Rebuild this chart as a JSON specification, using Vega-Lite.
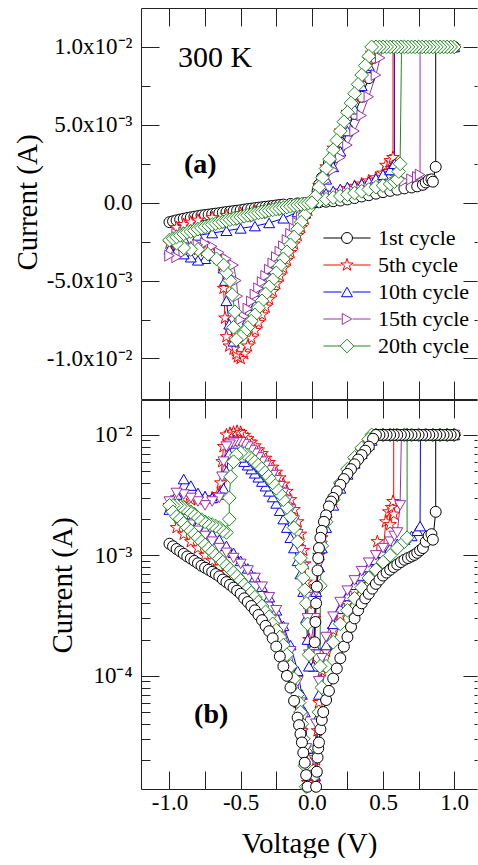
{
"$schema": "https://vega.github.io/schema/vega-lite/v6.json",
"background": "white",
"padding": {"left": 13, "top": 7, "right": 0, "bottom": 0},
"config": {
 "font": "Liberation Serif",
 "view": {"stroke": null},
 "concat": {"spacing": 0},
 "axis": {"grid": false, "domainColor": "#222", "tickColor": "#222", "domainWidth": 1, "tickWidth": 1, "labelFont": "Liberation Serif", "labelFontSize": 23, "labelColor": "#000", "titleFont": "Liberation Serif", "titleFontSize": 29, "titleFontWeight": "normal", "titleColor": "#000"},
 "legend": {"labelFont": "Liberation Serif", "labelFontSize": 22, "labelFontWeight": "normal", "labelColor": "#000", "padding": 0}
},
"datasets": {
"top": [
{"cycle":"1st","V":-1,"I":-0.00125},{"cycle":"1st","V":-0.975,"I":-0.00119},{"cycle":"1st","V":-0.95,"I":-0.00113},{"cycle":"1st","V":-0.925,"I":-0.00108},{"cycle":"1st","V":-0.9,"I":-0.00103},{"cycle":"1st","V":-0.875,"I":-0.00098},{"cycle":"1st","V":-0.85,"I":-0.00094},{"cycle":"1st","V":-0.825,"I":-0.0009},{"cycle":"1st","V":-0.8,"I":-0.00086},{"cycle":"1st","V":-0.775,"I":-0.00082},{"cycle":"1st","V":-0.75,"I":-0.00079},{"cycle":"1st","V":-0.725,"I":-0.00076},{"cycle":"1st","V":-0.7,"I":-0.00073},{"cycle":"1st","V":-0.675,"I":-0.0007},{"cycle":"1st","V":-0.65,"I":-0.00067},{"cycle":"1st","V":-0.625,"I":-0.00063},{"cycle":"1st","V":-0.6,"I":-0.0006},{"cycle":"1st","V":-0.575,"I":-0.00057},{"cycle":"1st","V":-0.55,"I":-0.00054},{"cycle":"1st","V":-0.525,"I":-0.00051},{"cycle":"1st","V":-0.5,"I":-0.00048},{"cycle":"1st","V":-0.475,"I":-0.00044},{"cycle":"1st","V":-0.45,"I":-0.00041},{"cycle":"1st","V":-0.425,"I":-0.00038},{"cycle":"1st","V":-0.4,"I":-0.00035},{"cycle":"1st","V":-0.375,"I":-0.00032},{"cycle":"1st","V":-0.35,"I":-0.00029},{"cycle":"1st","V":-0.325,"I":-0.00026},{"cycle":"1st","V":-0.3,"I":-0.000235},{"cycle":"1st","V":-0.275,"I":-0.000205},{"cycle":"1st","V":-0.25,"I":-0.000175},{"cycle":"1st","V":-0.225,"I":-0.000145},{"cycle":"1st","V":-0.2,"I":-0.00012},{"cycle":"1st","V":-0.15,"I":-0.00008},{"cycle":"1st","V":-0.1,"I":-0.000045},{"cycle":"1st","V":-0.05,"I":-0.000019},
{"cycle":"1st","V":0.05,"I":0.000028},{"cycle":"1st","V":0.1,"I":0.000063},{"cycle":"1st","V":0.15,"I":0.000095},{"cycle":"1st","V":0.2,"I":0.00014},{"cycle":"1st","V":0.25,"I":0.00021},{"cycle":"1st","V":0.3,"I":0.0003},{"cycle":"1st","V":0.35,"I":0.0004},{"cycle":"1st","V":0.4,"I":0.00048},{"cycle":"1st","V":0.45,"I":0.00058},{"cycle":"1st","V":0.5,"I":0.00068},{"cycle":"1st","V":0.55,"I":0.00076},{"cycle":"1st","V":0.6,"I":0.00084},{"cycle":"1st","V":0.65,"I":0.00092},{"cycle":"1st","V":0.7,"I":0.00098},{"cycle":"1st","V":0.74,"I":0.00105},{"cycle":"1st","V":0.78,"I":0.00115},{"cycle":"1st","V":0.8,"I":0.0013},{"cycle":"1st","V":0.82,"I":0.00145},{"cycle":"1st","V":0.84,"I":0.0015},{"cycle":"1st","V":0.85,"I":0.00135},{"cycle":"1st","V":0.87,"I":0.0023},
{"cycle":"1st","V":0.87,"I":0.01},{"cycle":"1st","V":1,"I":0.01},{"cycle":"1st","V":0.95,"I":0.01},{"cycle":"1st","V":0.9,"I":0.01},{"cycle":"1st","V":0.85,"I":0.01},{"cycle":"1st","V":0.8,"I":0.01},{"cycle":"1st","V":0.75,"I":0.01},{"cycle":"1st","V":0.7,"I":0.01},{"cycle":"1st","V":0.65,"I":0.01},{"cycle":"1st","V":0.6,"I":0.01},{"cycle":"1st","V":0.55,"I":0.01},{"cycle":"1st","V":0.5,"I":0.01},{"cycle":"1st","V":0.45,"I":0.01},
{"cycle":"1st","V":0.43,"I":0.0093},{"cycle":"1st","V":0.4,"I":0.008},{"cycle":"1st","V":0.35,"I":0.0068},{"cycle":"1st","V":0.3,"I":0.0057},{"cycle":"1st","V":0.25,"I":0.00475},{"cycle":"1st","V":0.2,"I":0.00385},{"cycle":"1st","V":0.15,"I":0.003},{"cycle":"1st","V":0.12,"I":0.00255},{"cycle":"1st","V":0.1,"I":0.00215},{"cycle":"1st","V":0.07,"I":0.0016},{"cycle":"1st","V":0.05,"I":0.00115},{"cycle":"1st","V":0.04,"I":0.00075},{"cycle":"1st","V":0.03,"I":0.0004},{"cycle":"1st","V":0.02,"I":0.00019},

{"cycle":"5th","V":0,"I":0},{"cycle":"5th","V":0.05,"I":0.00025},{"cycle":"5th","V":0.1,"I":0.00045},{"cycle":"5th","V":0.15,"I":0.0006},{"cycle":"5th","V":0.2,"I":0.00075},{"cycle":"5th","V":0.25,"I":0.0009},{"cycle":"5th","V":0.3,"I":0.00105},{"cycle":"5th","V":0.35,"I":0.0012},{"cycle":"5th","V":0.4,"I":0.0014},{"cycle":"5th","V":0.45,"I":0.0016},{"cycle":"5th","V":0.5,"I":0.0019},{"cycle":"5th","V":0.52,"I":0.0024},{"cycle":"5th","V":0.54,"I":0.002},{"cycle":"5th","V":0.55,"I":0.0027},{"cycle":"5th","V":0.56,"I":0.0022},{"cycle":"5th","V":0.57,"I":0.0029},
{"cycle":"5th","V":0.57,"I":0.01},{"cycle":"5th","V":1,"I":0.01},{"cycle":"5th","V":0.95,"I":0.01},{"cycle":"5th","V":0.9,"I":0.01},{"cycle":"5th","V":0.85,"I":0.01},{"cycle":"5th","V":0.8,"I":0.01},{"cycle":"5th","V":0.75,"I":0.01},{"cycle":"5th","V":0.7,"I":0.01},{"cycle":"5th","V":0.65,"I":0.01},{"cycle":"5th","V":0.6,"I":0.01},{"cycle":"5th","V":0.55,"I":0.01},{"cycle":"5th","V":0.5,"I":0.01},{"cycle":"5th","V":0.45,"I":0.01},
{"cycle":"5th","V":0.42,"I":0.0096},{"cycle":"5th","V":0.4,"I":0.0092},{"cycle":"5th","V":0.35,"I":0.0081},{"cycle":"5th","V":0.3,"I":0.0069},{"cycle":"5th","V":0.25,"I":0.0058},{"cycle":"5th","V":0.2,"I":0.0046},{"cycle":"5th","V":0.15,"I":0.0035},{"cycle":"5th","V":0.1,"I":0.0023},{"cycle":"5th","V":0.05,"I":0.0011},{"cycle":"5th","V":0,"I":0},
{"cycle":"5th","V":-0.025,"I":-0.0005},{"cycle":"5th","V":-0.05,"I":-0.00105},{"cycle":"5th","V":-0.075,"I":-0.0016},{"cycle":"5th","V":-0.1,"I":-0.0021},{"cycle":"5th","V":-0.125,"I":-0.00265},{"cycle":"5th","V":-0.15,"I":-0.0032},{"cycle":"5th","V":-0.175,"I":-0.0037},{"cycle":"5th","V":-0.2,"I":-0.0042},{"cycle":"5th","V":-0.225,"I":-0.0047},{"cycle":"5th","V":-0.25,"I":-0.0052},{"cycle":"5th","V":-0.275,"I":-0.0057},{"cycle":"5th","V":-0.3,"I":-0.0062},{"cycle":"5th","V":-0.325,"I":-0.0067},{"cycle":"5th","V":-0.35,"I":-0.0072},{"cycle":"5th","V":-0.375,"I":-0.0077},{"cycle":"5th","V":-0.4,"I":-0.0082},{"cycle":"5th","V":-0.425,"I":-0.0087},{"cycle":"5th","V":-0.45,"I":-0.0092},{"cycle":"5th","V":-0.475,"I":-0.0097},{"cycle":"5th","V":-0.5,"I":-0.01},{"cycle":"5th","V":-0.52,"I":-0.0099},{"cycle":"5th","V":-0.53,"I":-0.0097},{"cycle":"5th","V":-0.55,"I":-0.0094},{"cycle":"5th","V":-0.58,"I":-0.0092},{"cycle":"5th","V":-0.6,"I":-0.0086},{"cycle":"5th","V":-0.61,"I":-0.0074},{"cycle":"5th","V":-0.62,"I":-0.0055},{"cycle":"5th","V":-0.63,"I":-0.004},
{"cycle":"5th","V":-0.65,"I":-0.0035},{"cycle":"5th","V":-0.7,"I":-0.0032},{"cycle":"5th","V":-0.75,"I":-0.0031},{"cycle":"5th","V":-0.8,"I":-0.003},{"cycle":"5th","V":-0.85,"I":-0.0029},{"cycle":"5th","V":-0.9,"I":-0.0028},{"cycle":"5th","V":-0.95,"I":-0.0027},{"cycle":"5th","V":-1,"I":-0.0026},
{"cycle":"5th","V":-0.95,"I":-0.0016},{"cycle":"5th","V":-0.9,"I":-0.0014},{"cycle":"5th","V":-0.85,"I":-0.00125},{"cycle":"5th","V":-0.8,"I":-0.00112},{"cycle":"5th","V":-0.7,"I":-0.00096},{"cycle":"5th","V":-0.6,"I":-0.00082},{"cycle":"5th","V":-0.5,"I":-0.0007},{"cycle":"5th","V":-0.4,"I":-0.00056},{"cycle":"5th","V":-0.3,"I":-0.00043},{"cycle":"5th","V":-0.2,"I":-0.00029},{"cycle":"5th","V":-0.1,"I":-0.00014},{"cycle":"5th","V":0,"I":0},

{"cycle":"10th","V":0,"I":0},{"cycle":"10th","V":0.05,"I":0.00035},{"cycle":"10th","V":0.1,"I":0.0006},{"cycle":"10th","V":0.15,"I":0.00075},{"cycle":"10th","V":0.2,"I":0.00088},{"cycle":"10th","V":0.25,"I":0.001},{"cycle":"10th","V":0.3,"I":0.0011},{"cycle":"10th","V":0.35,"I":0.0012},{"cycle":"10th","V":0.4,"I":0.00135},{"cycle":"10th","V":0.45,"I":0.00155},{"cycle":"10th","V":0.5,"I":0.0018},{"cycle":"10th","V":0.55,"I":0.0021},{"cycle":"10th","V":0.58,"I":0.0025},
{"cycle":"10th","V":0.58,"I":0.01},{"cycle":"10th","V":1,"I":0.01},{"cycle":"10th","V":0.95,"I":0.01},{"cycle":"10th","V":0.9,"I":0.01},{"cycle":"10th","V":0.85,"I":0.01},{"cycle":"10th","V":0.8,"I":0.01},{"cycle":"10th","V":0.75,"I":0.01},{"cycle":"10th","V":0.7,"I":0.01},{"cycle":"10th","V":0.65,"I":0.01},{"cycle":"10th","V":0.6,"I":0.01},{"cycle":"10th","V":0.55,"I":0.01},{"cycle":"10th","V":0.5,"I":0.01},{"cycle":"10th","V":0.45,"I":0.01},
{"cycle":"10th","V":0.4,"I":0.0088},{"cycle":"10th","V":0.35,"I":0.0075},{"cycle":"10th","V":0.3,"I":0.006},{"cycle":"10th","V":0.25,"I":0.0046},{"cycle":"10th","V":0.2,"I":0.0033},{"cycle":"10th","V":0.15,"I":0.0023},{"cycle":"10th","V":0.1,"I":0.0015},{"cycle":"10th","V":0.05,"I":0.0007},{"cycle":"10th","V":0,"I":0},
{"cycle":"10th","V":-0.05,"I":-0.0007},{"cycle":"10th","V":-0.1,"I":-0.0015},{"cycle":"10th","V":-0.15,"I":-0.0023},{"cycle":"10th","V":-0.2,"I":-0.0031},{"cycle":"10th","V":-0.25,"I":-0.0039},{"cycle":"10th","V":-0.3,"I":-0.0048},{"cycle":"10th","V":-0.35,"I":-0.0057},{"cycle":"10th","V":-0.4,"I":-0.0066},{"cycle":"10th","V":-0.45,"I":-0.0075},{"cycle":"10th","V":-0.5,"I":-0.0084},{"cycle":"10th","V":-0.55,"I":-0.0089},{"cycle":"10th","V":-0.58,"I":-0.0078},{"cycle":"10th","V":-0.6,"I":-0.0063},{"cycle":"10th","V":-0.61,"I":-0.005},{"cycle":"10th","V":-0.62,"I":-0.0042},
{"cycle":"10th","V":-0.65,"I":-0.0036},{"cycle":"10th","V":-0.7,"I":-0.0034},{"cycle":"10th","V":-0.75,"I":-0.0036},{"cycle":"10th","V":-0.8,"I":-0.0037},{"cycle":"10th","V":-0.85,"I":-0.0035},{"cycle":"10th","V":-0.9,"I":-0.0033},{"cycle":"10th","V":-0.95,"I":-0.0031},{"cycle":"10th","V":-1,"I":-0.003},
{"cycle":"10th","V":-0.95,"I":-0.0025},{"cycle":"10th","V":-0.9,"I":-0.0023},{"cycle":"10th","V":-0.8,"I":-0.0021},{"cycle":"10th","V":-0.7,"I":-0.00195},{"cycle":"10th","V":-0.6,"I":-0.0018},{"cycle":"10th","V":-0.5,"I":-0.00165},{"cycle":"10th","V":-0.4,"I":-0.0015},{"cycle":"10th","V":-0.3,"I":-0.0013},{"cycle":"10th","V":-0.2,"I":-0.001},{"cycle":"10th","V":-0.1,"I":-0.0006},{"cycle":"10th","V":0,"I":0},

{"cycle":"15th","V":0,"I":0},{"cycle":"15th","V":0.05,"I":0.00015},{"cycle":"15th","V":0.1,"I":0.0003},{"cycle":"15th","V":0.15,"I":0.00042},{"cycle":"15th","V":0.2,"I":0.00052},{"cycle":"15th","V":0.25,"I":0.00062},{"cycle":"15th","V":0.3,"I":0.00072},{"cycle":"15th","V":0.35,"I":0.00082},{"cycle":"15th","V":0.4,"I":0.00092},{"cycle":"15th","V":0.45,"I":0.001},{"cycle":"15th","V":0.5,"I":0.0011},{"cycle":"15th","V":0.55,"I":0.0012},{"cycle":"15th","V":0.6,"I":0.0013},{"cycle":"15th","V":0.65,"I":0.0014},{"cycle":"15th","V":0.7,"I":0.0015},{"cycle":"15th","V":0.74,"I":0.00165},{"cycle":"15th","V":0.76,"I":0.0018},
{"cycle":"15th","V":0.76,"I":0.01},{"cycle":"15th","V":1,"I":0.01},{"cycle":"15th","V":0.95,"I":0.01},{"cycle":"15th","V":0.9,"I":0.01},{"cycle":"15th","V":0.85,"I":0.01},{"cycle":"15th","V":0.8,"I":0.01},{"cycle":"15th","V":0.75,"I":0.01},{"cycle":"15th","V":0.7,"I":0.01},{"cycle":"15th","V":0.65,"I":0.01},{"cycle":"15th","V":0.6,"I":0.01},{"cycle":"15th","V":0.55,"I":0.01},{"cycle":"15th","V":0.5,"I":0.01},
{"cycle":"15th","V":0.48,"I":0.0093},{"cycle":"15th","V":0.45,"I":0.0082},{"cycle":"15th","V":0.4,"I":0.0068},{"cycle":"15th","V":0.35,"I":0.0056},{"cycle":"15th","V":0.3,"I":0.0046},{"cycle":"15th","V":0.25,"I":0.0037},{"cycle":"15th","V":0.2,"I":0.0029},{"cycle":"15th","V":0.15,"I":0.0021},{"cycle":"15th","V":0.1,"I":0.0014},{"cycle":"15th","V":0.05,"I":0.0007},{"cycle":"15th","V":0,"I":0},
{"cycle":"15th","V":-0.025,"I":-0.0003},{"cycle":"15th","V":-0.05,"I":-0.0006},{"cycle":"15th","V":-0.075,"I":-0.00095},{"cycle":"15th","V":-0.1,"I":-0.0013},{"cycle":"15th","V":-0.125,"I":-0.00165},{"cycle":"15th","V":-0.15,"I":-0.002},{"cycle":"15th","V":-0.175,"I":-0.0024},{"cycle":"15th","V":-0.2,"I":-0.0028},{"cycle":"15th","V":-0.225,"I":-0.00315},{"cycle":"15th","V":-0.25,"I":-0.0035},{"cycle":"15th","V":-0.275,"I":-0.0039},{"cycle":"15th","V":-0.3,"I":-0.0043},{"cycle":"15th","V":-0.325,"I":-0.0047},{"cycle":"15th","V":-0.35,"I":-0.0051},{"cycle":"15th","V":-0.375,"I":-0.0055},{"cycle":"15th","V":-0.4,"I":-0.0059},{"cycle":"15th","V":-0.425,"I":-0.00635},{"cycle":"15th","V":-0.45,"I":-0.0068},{"cycle":"15th","V":-0.475,"I":-0.0073},{"cycle":"15th","V":-0.5,"I":-0.0075},{"cycle":"15th","V":-0.52,"I":-0.006},{"cycle":"15th","V":-0.53,"I":-0.005},{"cycle":"15th","V":-0.55,"I":-0.004},
{"cycle":"15th","V":-0.6,"I":-0.0036},{"cycle":"15th","V":-0.65,"I":-0.0032},{"cycle":"15th","V":-0.7,"I":-0.0028},{"cycle":"15th","V":-0.75,"I":-0.0026},{"cycle":"15th","V":-0.8,"I":-0.0027},{"cycle":"15th","V":-0.85,"I":-0.0029},{"cycle":"15th","V":-0.9,"I":-0.0032},{"cycle":"15th","V":-0.95,"I":-0.0035},{"cycle":"15th","V":-1,"I":-0.0034},
{"cycle":"15th","V":-0.95,"I":-0.002},{"cycle":"15th","V":-0.9,"I":-0.0019},{"cycle":"15th","V":-0.8,"I":-0.0017},{"cycle":"15th","V":-0.7,"I":-0.0015},{"cycle":"15th","V":-0.6,"I":-0.0013},{"cycle":"15th","V":-0.5,"I":-0.0011},{"cycle":"15th","V":-0.4,"I":-0.0009},{"cycle":"15th","V":-0.3,"I":-0.00068},{"cycle":"15th","V":-0.2,"I":-0.00046},{"cycle":"15th","V":-0.1,"I":-0.00023},{"cycle":"15th","V":0,"I":0},

{"cycle":"20th","V":0,"I":0},{"cycle":"20th","V":0.05,"I":0.0001},{"cycle":"20th","V":0.1,"I":0.00022},{"cycle":"20th","V":0.15,"I":0.00033},{"cycle":"20th","V":0.2,"I":0.00043},{"cycle":"20th","V":0.25,"I":0.00052},{"cycle":"20th","V":0.3,"I":0.00062},{"cycle":"20th","V":0.35,"I":0.00073},{"cycle":"20th","V":0.4,"I":0.00085},{"cycle":"20th","V":0.45,"I":0.001},{"cycle":"20th","V":0.5,"I":0.0011},{"cycle":"20th","V":0.55,"I":0.0012},{"cycle":"20th","V":0.58,"I":0.00135},{"cycle":"20th","V":0.6,"I":0.0015},{"cycle":"20th","V":0.61,"I":0.002},{"cycle":"20th","V":0.62,"I":0.0025},
{"cycle":"20th","V":0.63,"I":0.01},{"cycle":"20th","V":1,"I":0.01},{"cycle":"20th","V":0.975,"I":0.01},{"cycle":"20th","V":0.95,"I":0.01},{"cycle":"20th","V":0.925,"I":0.01},{"cycle":"20th","V":0.9,"I":0.01},{"cycle":"20th","V":0.875,"I":0.01},{"cycle":"20th","V":0.85,"I":0.01},{"cycle":"20th","V":0.825,"I":0.01},{"cycle":"20th","V":0.8,"I":0.01},{"cycle":"20th","V":0.775,"I":0.01},{"cycle":"20th","V":0.75,"I":0.01},{"cycle":"20th","V":0.725,"I":0.01},{"cycle":"20th","V":0.7,"I":0.01},{"cycle":"20th","V":0.675,"I":0.01},{"cycle":"20th","V":0.65,"I":0.01},{"cycle":"20th","V":0.625,"I":0.01},{"cycle":"20th","V":0.6,"I":0.01},{"cycle":"20th","V":0.575,"I":0.01},{"cycle":"20th","V":0.55,"I":0.01},{"cycle":"20th","V":0.525,"I":0.01},{"cycle":"20th","V":0.5,"I":0.01},{"cycle":"20th","V":0.475,"I":0.01},{"cycle":"20th","V":0.45,"I":0.01},
{"cycle":"20th","V":0.42,"I":0.01},{"cycle":"20th","V":0.4,"I":0.0094},{"cycle":"20th","V":0.375,"I":0.0088},{"cycle":"20th","V":0.35,"I":0.0082},{"cycle":"20th","V":0.325,"I":0.0076},{"cycle":"20th","V":0.3,"I":0.007},{"cycle":"20th","V":0.275,"I":0.0064},{"cycle":"20th","V":0.25,"I":0.0058},{"cycle":"20th","V":0.225,"I":0.0052},{"cycle":"20th","V":0.2,"I":0.0046},{"cycle":"20th","V":0.175,"I":0.004},{"cycle":"20th","V":0.15,"I":0.0034},{"cycle":"20th","V":0.125,"I":0.0028},{"cycle":"20th","V":0.1,"I":0.0022},{"cycle":"20th","V":0.075,"I":0.0016},{"cycle":"20th","V":0.05,"I":0.001},{"cycle":"20th","V":0.025,"I":0.0004},{"cycle":"20th","V":0,"I":0},
{"cycle":"20th","V":-0.025,"I":-0.0004},{"cycle":"20th","V":-0.05,"I":-0.0008},{"cycle":"20th","V":-0.075,"I":-0.00125},{"cycle":"20th","V":-0.1,"I":-0.0017},{"cycle":"20th","V":-0.125,"I":-0.0022},{"cycle":"20th","V":-0.15,"I":-0.0027},{"cycle":"20th","V":-0.175,"I":-0.00315},{"cycle":"20th","V":-0.2,"I":-0.0036},{"cycle":"20th","V":-0.225,"I":-0.00405},{"cycle":"20th","V":-0.25,"I":-0.0045},{"cycle":"20th","V":-0.275,"I":-0.00495},{"cycle":"20th","V":-0.3,"I":-0.0054},{"cycle":"20th","V":-0.325,"I":-0.00585},{"cycle":"20th","V":-0.35,"I":-0.0063},{"cycle":"20th","V":-0.375,"I":-0.00675},{"cycle":"20th","V":-0.4,"I":-0.0072},{"cycle":"20th","V":-0.425,"I":-0.0076},{"cycle":"20th","V":-0.45,"I":-0.008},{"cycle":"20th","V":-0.475,"I":-0.0083},{"cycle":"20th","V":-0.5,"I":-0.0086},{"cycle":"20th","V":-0.53,"I":-0.0088},{"cycle":"20th","V":-0.55,"I":-0.008},{"cycle":"20th","V":-0.54,"I":-0.007},{"cycle":"20th","V":-0.56,"I":-0.0059},{"cycle":"20th","V":-0.575,"I":-0.005},{"cycle":"20th","V":-0.6,"I":-0.0045},
{"cycle":"20th","V":-0.62,"I":-0.004},{"cycle":"20th","V":-0.67,"I":-0.0036},{"cycle":"20th","V":-0.73,"I":-0.0033},{"cycle":"20th","V":-0.8,"I":-0.003},{"cycle":"20th","V":-0.85,"I":-0.003},{"cycle":"20th","V":-0.9,"I":-0.0029},{"cycle":"20th","V":-0.95,"I":-0.0026},{"cycle":"20th","V":-1,"I":-0.0024},
{"cycle":"20th","V":-0.975,"I":-0.0023},{"cycle":"20th","V":-0.95,"I":-0.0022},{"cycle":"20th","V":-0.925,"I":-0.0021},{"cycle":"20th","V":-0.9,"I":-0.002},{"cycle":"20th","V":-0.875,"I":-0.0019},{"cycle":"20th","V":-0.85,"I":-0.00185},{"cycle":"20th","V":-0.825,"I":-0.00178},{"cycle":"20th","V":-0.8,"I":-0.0017},{"cycle":"20th","V":-0.775,"I":-0.00162},{"cycle":"20th","V":-0.75,"I":-0.00155},{"cycle":"20th","V":-0.725,"I":-0.00148},{"cycle":"20th","V":-0.7,"I":-0.0014},{"cycle":"20th","V":-0.675,"I":-0.00134},{"cycle":"20th","V":-0.65,"I":-0.00128},{"cycle":"20th","V":-0.625,"I":-0.00122},{"cycle":"20th","V":-0.6,"I":-0.00115},{"cycle":"20th","V":-0.575,"I":-0.00109},{"cycle":"20th","V":-0.55,"I":-0.00103},{"cycle":"20th","V":-0.525,"I":-0.00098},{"cycle":"20th","V":-0.5,"I":-0.00092},{"cycle":"20th","V":-0.475,"I":-0.00087},{"cycle":"20th","V":-0.45,"I":-0.00081},{"cycle":"20th","V":-0.425,"I":-0.00076},{"cycle":"20th","V":-0.4,"I":-0.0007},{"cycle":"20th","V":-0.375,"I":-0.00065},{"cycle":"20th","V":-0.35,"I":-0.0006},{"cycle":"20th","V":-0.325,"I":-0.00055},{"cycle":"20th","V":-0.3,"I":-0.0005},{"cycle":"20th","V":-0.275,"I":-0.00046},{"cycle":"20th","V":-0.25,"I":-0.00041},{"cycle":"20th","V":-0.225,"I":-0.00037},{"cycle":"20th","V":-0.2,"I":-0.00032},{"cycle":"20th","V":-0.175,"I":-0.00028},{"cycle":"20th","V":-0.15,"I":-0.00023},{"cycle":"20th","V":-0.125,"I":-0.00019},{"cycle":"20th","V":-0.1,"I":-0.00015},{"cycle":"20th","V":-0.075,"I":-0.00011},{"cycle":"20th","V":-0.05,"I":-0.00007},{"cycle":"20th","V":-0.025,"I":-0.00003},{"cycle":"20th","V":0,"I":0}
],
"bot": [
{"cycle":"5th","V":0.02,"I":0.000013},{"cycle":"5th","V":0.03,"I":0.00002},{"cycle":"5th","V":0.04,"I":0.000035},{"cycle":"5th","V":0.05,"I":0.00006},{"cycle":"5th","V":0.07,"I":0.00011},{"cycle":"5th","V":0.1,"I":0.00016},{"cycle":"5th","V":0.15,"I":0.00024},{"cycle":"5th","V":0.2,"I":0.00032},{"cycle":"5th","V":0.25,"I":0.0004},{"cycle":"5th","V":0.3,"I":0.0005},{"cycle":"5th","V":0.35,"I":0.00062},{"cycle":"5th","V":0.4,"I":0.00075},{"cycle":"5th","V":0.45,"I":0.0009},{"cycle":"5th","V":0.46,"I":0.0013},{"cycle":"5th","V":0.5,"I":0.00105},{"cycle":"5th","V":0.52,"I":0.0019},{"cycle":"5th","V":0.54,"I":0.0023},{"cycle":"5th","V":0.55,"I":0.0018},{"cycle":"5th","V":0.56,"I":0.0025},{"cycle":"5th","V":0.57,"I":0.0028},{"cycle":"5th","V":0.575,"I":0.0022},
{"cycle":"5th","V":0.575,"I":0.01},{"cycle":"5th","V":1,"I":0.01},{"cycle":"5th","V":0.95,"I":0.01},{"cycle":"5th","V":0.9,"I":0.01},{"cycle":"5th","V":0.85,"I":0.01},{"cycle":"5th","V":0.8,"I":0.01},{"cycle":"5th","V":0.75,"I":0.01},{"cycle":"5th","V":0.7,"I":0.01},{"cycle":"5th","V":0.65,"I":0.01},{"cycle":"5th","V":0.6,"I":0.01},{"cycle":"5th","V":0.55,"I":0.01},{"cycle":"5th","V":0.5,"I":0.01},{"cycle":"5th","V":0.45,"I":0.01},
{"cycle":"5th","V":0.42,"I":0.0094},{"cycle":"5th","V":0.4,"I":0.0086},{"cycle":"5th","V":0.35,"I":0.0073},{"cycle":"5th","V":0.3,"I":0.0061},{"cycle":"5th","V":0.25,"I":0.005},{"cycle":"5th","V":0.2,"I":0.0039},{"cycle":"5th","V":0.15,"I":0.0029},{"cycle":"5th","V":0.1,"I":0.002},{"cycle":"5th","V":0.07,"I":0.0014},{"cycle":"5th","V":0.05,"I":0.001},{"cycle":"5th","V":0.03,"I":0.00055},{"cycle":"5th","V":0.02,"I":0.0003},{"cycle":"5th","V":0.01,"I":0.00012},
{"cycle":"5th","V":-0.02,"I":0.0002},{"cycle":"5th","V":-0.03,"I":0.0004},{"cycle":"5th","V":-0.04,"I":0.0006},{"cycle":"5th","V":-0.05,"I":0.00085},{"cycle":"5th","V":-0.06,"I":0.0011},{"cycle":"5th","V":-0.08,"I":0.0015},{"cycle":"5th","V":-0.1,"I":0.0019},{"cycle":"5th","V":-0.125,"I":0.0024},{"cycle":"5th","V":-0.15,"I":0.0029},{"cycle":"5th","V":-0.175,"I":0.0034},{"cycle":"5th","V":-0.2,"I":0.0039},{"cycle":"5th","V":-0.225,"I":0.0044},{"cycle":"5th","V":-0.25,"I":0.0049},{"cycle":"5th","V":-0.275,"I":0.0054},{"cycle":"5th","V":-0.3,"I":0.0059},{"cycle":"5th","V":-0.325,"I":0.0064},{"cycle":"5th","V":-0.35,"I":0.007},{"cycle":"5th","V":-0.375,"I":0.0075},{"cycle":"5th","V":-0.4,"I":0.0081},{"cycle":"5th","V":-0.425,"I":0.0087},{"cycle":"5th","V":-0.45,"I":0.0093},{"cycle":"5th","V":-0.475,"I":0.0099},{"cycle":"5th","V":-0.5,"I":0.0105},{"cycle":"5th","V":-0.525,"I":0.0107},{"cycle":"5th","V":-0.55,"I":0.0105},{"cycle":"5th","V":-0.575,"I":0.0103},{"cycle":"5th","V":-0.6,"I":0.01},{"cycle":"5th","V":-0.62,"I":0.008},{"cycle":"5th","V":-0.63,"I":0.006},{"cycle":"5th","V":-0.64,"I":0.004},
{"cycle":"5th","V":-0.66,"I":0.0032},{"cycle":"5th","V":-0.7,"I":0.003},{"cycle":"5th","V":-0.75,"I":0.003},{"cycle":"5th","V":-0.8,"I":0.0029},{"cycle":"5th","V":-0.85,"I":0.0029},{"cycle":"5th","V":-0.9,"I":0.003},{"cycle":"5th","V":-0.95,"I":0.003},{"cycle":"5th","V":-1,"I":0.0026},
{"cycle":"5th","V":-0.95,"I":0.0017},{"cycle":"5th","V":-0.9,"I":0.0015},{"cycle":"5th","V":-0.85,"I":0.0013},{"cycle":"5th","V":-0.8,"I":0.00115},{"cycle":"5th","V":-0.75,"I":0.001},{"cycle":"5th","V":-0.7,"I":0.0009},{"cycle":"5th","V":-0.65,"I":0.0008},{"cycle":"5th","V":-0.6,"I":0.00072},{"cycle":"5th","V":-0.55,"I":0.00064},{"cycle":"5th","V":-0.5,"I":0.00056},{"cycle":"5th","V":-0.45,"I":0.00049},{"cycle":"5th","V":-0.4,"I":0.00042},{"cycle":"5th","V":-0.35,"I":0.00035},{"cycle":"5th","V":-0.3,"I":0.00028},{"cycle":"5th","V":-0.25,"I":0.00022},{"cycle":"5th","V":-0.2,"I":0.00016},{"cycle":"5th","V":-0.15,"I":0.00011},{"cycle":"5th","V":-0.1,"I":0.00006},{"cycle":"5th","V":-0.07,"I":0.000035},{"cycle":"5th","V":-0.05,"I":0.000022},{"cycle":"5th","V":-0.03,"I":0.000013},

{"cycle":"10th","V":0.02,"I":0.000015},{"cycle":"10th","V":0.03,"I":0.000025},{"cycle":"10th","V":0.04,"I":0.000045},{"cycle":"10th","V":0.05,"I":0.00007},{"cycle":"10th","V":0.07,"I":0.00012},{"cycle":"10th","V":0.1,"I":0.00018},{"cycle":"10th","V":0.15,"I":0.00027},{"cycle":"10th","V":0.2,"I":0.00036},{"cycle":"10th","V":0.25,"I":0.00046},{"cycle":"10th","V":0.3,"I":0.00057},{"cycle":"10th","V":0.35,"I":0.00068},{"cycle":"10th","V":0.4,"I":0.0008},{"cycle":"10th","V":0.45,"I":0.00092},{"cycle":"10th","V":0.5,"I":0.00105},{"cycle":"10th","V":0.55,"I":0.00115},{"cycle":"10th","V":0.6,"I":0.00125},{"cycle":"10th","V":0.65,"I":0.00135},{"cycle":"10th","V":0.7,"I":0.00145},{"cycle":"10th","V":0.74,"I":0.0016},{"cycle":"10th","V":0.76,"I":0.00175},
{"cycle":"10th","V":0.763,"I":0.01},{"cycle":"10th","V":1,"I":0.01},{"cycle":"10th","V":0.95,"I":0.01},{"cycle":"10th","V":0.9,"I":0.01},{"cycle":"10th","V":0.85,"I":0.01},{"cycle":"10th","V":0.8,"I":0.01},{"cycle":"10th","V":0.75,"I":0.01},{"cycle":"10th","V":0.7,"I":0.01},{"cycle":"10th","V":0.65,"I":0.01},{"cycle":"10th","V":0.6,"I":0.01},{"cycle":"10th","V":0.55,"I":0.01},{"cycle":"10th","V":0.5,"I":0.01},{"cycle":"10th","V":0.45,"I":0.01},
{"cycle":"10th","V":0.42,"I":0.009},{"cycle":"10th","V":0.4,"I":0.0083},{"cycle":"10th","V":0.35,"I":0.007},{"cycle":"10th","V":0.3,"I":0.0058},{"cycle":"10th","V":0.25,"I":0.0047},{"cycle":"10th","V":0.2,"I":0.0036},{"cycle":"10th","V":0.15,"I":0.0026},{"cycle":"10th","V":0.1,"I":0.0017},{"cycle":"10th","V":0.07,"I":0.00115},{"cycle":"10th","V":0.05,"I":0.0008},{"cycle":"10th","V":0.03,"I":0.0005},{"cycle":"10th","V":0.02,"I":0.0003},{"cycle":"10th","V":0.015,"I":0.00018},{"cycle":"10th","V":0.01,"I":0.00012},
{"cycle":"10th","V":-0.02,"I":0.00012},{"cycle":"10th","V":-0.03,"I":0.0002},{"cycle":"10th","V":-0.04,"I":0.0003},{"cycle":"10th","V":-0.06,"I":0.0005},{"cycle":"10th","V":-0.08,"I":0.0007},{"cycle":"10th","V":-0.1,"I":0.0009},{"cycle":"10th","V":-0.125,"I":0.00115},{"cycle":"10th","V":-0.15,"I":0.0014},{"cycle":"10th","V":-0.175,"I":0.0017},{"cycle":"10th","V":-0.2,"I":0.002},{"cycle":"10th","V":-0.225,"I":0.00235},{"cycle":"10th","V":-0.25,"I":0.0027},{"cycle":"10th","V":-0.275,"I":0.00305},{"cycle":"10th","V":-0.3,"I":0.0034},{"cycle":"10th","V":-0.325,"I":0.00375},{"cycle":"10th","V":-0.35,"I":0.0041},{"cycle":"10th","V":-0.375,"I":0.00445},{"cycle":"10th","V":-0.4,"I":0.0048},{"cycle":"10th","V":-0.425,"I":0.0052},{"cycle":"10th","V":-0.45,"I":0.0056},{"cycle":"10th","V":-0.475,"I":0.006},{"cycle":"10th","V":-0.5,"I":0.0065},{"cycle":"10th","V":-0.53,"I":0.0085},{"cycle":"10th","V":-0.55,"I":0.009},{"cycle":"10th","V":-0.58,"I":0.007},{"cycle":"10th","V":-0.6,"I":0.005},{"cycle":"10th","V":-0.62,"I":0.0036},
{"cycle":"10th","V":-0.65,"I":0.0032},{"cycle":"10th","V":-0.7,"I":0.003},{"cycle":"10th","V":-0.75,"I":0.0031},{"cycle":"10th","V":-0.8,"I":0.0033},{"cycle":"10th","V":-0.85,"I":0.0038},{"cycle":"10th","V":-0.9,"I":0.0043},{"cycle":"10th","V":-0.95,"I":0.0032},{"cycle":"10th","V":-1,"I":0.0024},
{"cycle":"10th","V":-0.95,"I":0.0023},{"cycle":"10th","V":-0.9,"I":0.0021},{"cycle":"10th","V":-0.85,"I":0.00195},{"cycle":"10th","V":-0.8,"I":0.0018},{"cycle":"10th","V":-0.75,"I":0.00165},{"cycle":"10th","V":-0.7,"I":0.0015},{"cycle":"10th","V":-0.65,"I":0.00135},{"cycle":"10th","V":-0.6,"I":0.0012},{"cycle":"10th","V":-0.55,"I":0.00105},{"cycle":"10th","V":-0.5,"I":0.0009},{"cycle":"10th","V":-0.45,"I":0.00078},{"cycle":"10th","V":-0.4,"I":0.00066},{"cycle":"10th","V":-0.35,"I":0.00055},{"cycle":"10th","V":-0.3,"I":0.00045},{"cycle":"10th","V":-0.25,"I":0.00035},{"cycle":"10th","V":-0.2,"I":0.00026},{"cycle":"10th","V":-0.15,"I":0.00018},{"cycle":"10th","V":-0.1,"I":0.00011},{"cycle":"10th","V":-0.07,"I":0.00007},{"cycle":"10th","V":-0.05,"I":0.00005},{"cycle":"10th","V":-0.03,"I":0.000025},

{"cycle":"15th","V":0.02,"I":0.00002},{"cycle":"15th","V":0.03,"I":0.00004},{"cycle":"15th","V":0.05,"I":0.00009},{"cycle":"15th","V":0.07,"I":0.00014},{"cycle":"15th","V":0.1,"I":0.00021},{"cycle":"15th","V":0.15,"I":0.00031},{"cycle":"15th","V":0.2,"I":0.00041},{"cycle":"15th","V":0.25,"I":0.00051},{"cycle":"15th","V":0.3,"I":0.00062},{"cycle":"15th","V":0.35,"I":0.00074},{"cycle":"15th","V":0.4,"I":0.00087},{"cycle":"15th","V":0.45,"I":0.001},{"cycle":"15th","V":0.5,"I":0.00115},{"cycle":"15th","V":0.55,"I":0.0013},{"cycle":"15th","V":0.58,"I":0.00145},{"cycle":"15th","V":0.6,"I":0.00155},{"cycle":"15th","V":0.62,"I":0.0026},
{"cycle":"15th","V":0.629,"I":0.01},{"cycle":"15th","V":1,"I":0.01},{"cycle":"15th","V":0.95,"I":0.01},{"cycle":"15th","V":0.9,"I":0.01},{"cycle":"15th","V":0.85,"I":0.01},{"cycle":"15th","V":0.8,"I":0.01},{"cycle":"15th","V":0.75,"I":0.01},{"cycle":"15th","V":0.7,"I":0.01},{"cycle":"15th","V":0.65,"I":0.01},{"cycle":"15th","V":0.6,"I":0.01},{"cycle":"15th","V":0.55,"I":0.01},{"cycle":"15th","V":0.5,"I":0.01},{"cycle":"15th","V":0.45,"I":0.01},
{"cycle":"15th","V":0.42,"I":0.009},{"cycle":"15th","V":0.4,"I":0.0084},{"cycle":"15th","V":0.35,"I":0.0071},{"cycle":"15th","V":0.3,"I":0.0059},{"cycle":"15th","V":0.25,"I":0.0048},{"cycle":"15th","V":0.2,"I":0.0037},{"cycle":"15th","V":0.15,"I":0.0027},{"cycle":"15th","V":0.1,"I":0.0018},{"cycle":"15th","V":0.07,"I":0.0012},{"cycle":"15th","V":0.05,"I":0.00085},{"cycle":"15th","V":0.03,"I":0.0005},{"cycle":"15th","V":0.02,"I":0.0003},
{"cycle":"15th","V":-0.02,"I":0.00015},{"cycle":"15th","V":-0.03,"I":0.0003},{"cycle":"15th","V":-0.04,"I":0.00045},{"cycle":"15th","V":-0.06,"I":0.0008},{"cycle":"15th","V":-0.08,"I":0.0011},{"cycle":"15th","V":-0.1,"I":0.0015},{"cycle":"15th","V":-0.125,"I":0.00195},{"cycle":"15th","V":-0.15,"I":0.0024},{"cycle":"15th","V":-0.175,"I":0.00285},{"cycle":"15th","V":-0.2,"I":0.0033},{"cycle":"15th","V":-0.225,"I":0.00375},{"cycle":"15th","V":-0.25,"I":0.0042},{"cycle":"15th","V":-0.275,"I":0.00465},{"cycle":"15th","V":-0.3,"I":0.0051},{"cycle":"15th","V":-0.325,"I":0.00555},{"cycle":"15th","V":-0.35,"I":0.006},{"cycle":"15th","V":-0.375,"I":0.0065},{"cycle":"15th","V":-0.4,"I":0.007},{"cycle":"15th","V":-0.425,"I":0.0075},{"cycle":"15th","V":-0.45,"I":0.008},{"cycle":"15th","V":-0.475,"I":0.0084},{"cycle":"15th","V":-0.5,"I":0.0087},{"cycle":"15th","V":-0.525,"I":0.0087},{"cycle":"15th","V":-0.55,"I":0.0086},{"cycle":"15th","V":-0.575,"I":0.0083},{"cycle":"15th","V":-0.6,"I":0.008},{"cycle":"15th","V":-0.62,"I":0.006},{"cycle":"15th","V":-0.63,"I":0.0045},
{"cycle":"15th","V":-0.65,"I":0.003},{"cycle":"15th","V":-0.7,"I":0.0028},{"cycle":"15th","V":-0.75,"I":0.0026},{"cycle":"15th","V":-0.8,"I":0.0028},{"cycle":"15th","V":-0.85,"I":0.003},{"cycle":"15th","V":-0.9,"I":0.0032},{"cycle":"15th","V":-0.95,"I":0.0033},{"cycle":"15th","V":-1,"I":0.0028},
{"cycle":"15th","V":-0.95,"I":0.0022},{"cycle":"15th","V":-0.9,"I":0.002},{"cycle":"15th","V":-0.85,"I":0.0018},{"cycle":"15th","V":-0.8,"I":0.0016},{"cycle":"15th","V":-0.75,"I":0.00145},{"cycle":"15th","V":-0.7,"I":0.0013},{"cycle":"15th","V":-0.65,"I":0.00115},{"cycle":"15th","V":-0.6,"I":0.00105},{"cycle":"15th","V":-0.55,"I":0.00095},{"cycle":"15th","V":-0.5,"I":0.00085},{"cycle":"15th","V":-0.45,"I":0.00075},{"cycle":"15th","V":-0.4,"I":0.00065},{"cycle":"15th","V":-0.35,"I":0.00055},{"cycle":"15th","V":-0.3,"I":0.00045},{"cycle":"15th","V":-0.25,"I":0.00035},{"cycle":"15th","V":-0.2,"I":0.00025},{"cycle":"15th","V":-0.15,"I":0.00016},{"cycle":"15th","V":-0.1,"I":0.00009},{"cycle":"15th","V":-0.08,"I":0.00006},{"cycle":"15th","V":-0.06,"I":0.000045},{"cycle":"15th","V":-0.04,"I":0.000025},{"cycle":"15th","V":-0.03,"I":0.000015},

{"cycle":"20th","V":0.02,"I":0.000015},{"cycle":"20th","V":0.03,"I":0.000025},{"cycle":"20th","V":0.05,"I":0.00005},{"cycle":"20th","V":0.07,"I":0.00008},{"cycle":"20th","V":0.1,"I":0.00012},{"cycle":"20th","V":0.15,"I":0.00019},{"cycle":"20th","V":0.2,"I":0.00027},{"cycle":"20th","V":0.25,"I":0.00035},{"cycle":"20th","V":0.3,"I":0.00044},{"cycle":"20th","V":0.35,"I":0.00054},{"cycle":"20th","V":0.4,"I":0.00065},{"cycle":"20th","V":0.45,"I":0.00076},{"cycle":"20th","V":0.5,"I":0.00088},{"cycle":"20th","V":0.55,"I":0.001},{"cycle":"20th","V":0.6,"I":0.00115},{"cycle":"20th","V":0.65,"I":0.0013},{"cycle":"20th","V":0.669,"I":0.0014},
{"cycle":"20th","V":0.669,"I":0.01},{"cycle":"20th","V":1,"I":0.01},{"cycle":"20th","V":0.95,"I":0.01},{"cycle":"20th","V":0.9,"I":0.01},{"cycle":"20th","V":0.85,"I":0.01},{"cycle":"20th","V":0.8,"I":0.01},{"cycle":"20th","V":0.75,"I":0.01},{"cycle":"20th","V":0.7,"I":0.01},{"cycle":"20th","V":0.65,"I":0.01},{"cycle":"20th","V":0.6,"I":0.01},{"cycle":"20th","V":0.55,"I":0.01},{"cycle":"20th","V":0.5,"I":0.01},{"cycle":"20th","V":0.45,"I":0.01},
{"cycle":"20th","V":0.42,"I":0.01},{"cycle":"20th","V":0.4,"I":0.0092},{"cycle":"20th","V":0.35,"I":0.0078},{"cycle":"20th","V":0.3,"I":0.0065},{"cycle":"20th","V":0.25,"I":0.0052},{"cycle":"20th","V":0.2,"I":0.004},{"cycle":"20th","V":0.15,"I":0.0029},{"cycle":"20th","V":0.1,"I":0.0019},{"cycle":"20th","V":0.07,"I":0.0012},{"cycle":"20th","V":0.06,"I":0.00056},{"cycle":"20th","V":0.058,"I":0.00012},
{"cycle":"20th","V":-0.02,"I":0.00015},{"cycle":"20th","V":-0.03,"I":0.00027},{"cycle":"20th","V":-0.04,"I":0.0004},{"cycle":"20th","V":-0.05,"I":0.00052},{"cycle":"20th","V":-0.06,"I":0.00065},{"cycle":"20th","V":-0.07,"I":0.0008},{"cycle":"20th","V":-0.08,"I":0.00095},{"cycle":"20th","V":-0.1,"I":0.0013},{"cycle":"20th","V":-0.125,"I":0.0017},{"cycle":"20th","V":-0.15,"I":0.0021},{"cycle":"20th","V":-0.175,"I":0.0025},{"cycle":"20th","V":-0.2,"I":0.0029},{"cycle":"20th","V":-0.225,"I":0.00325},{"cycle":"20th","V":-0.25,"I":0.0036},{"cycle":"20th","V":-0.275,"I":0.004},{"cycle":"20th","V":-0.3,"I":0.0044},{"cycle":"20th","V":-0.325,"I":0.0048},{"cycle":"20th","V":-0.35,"I":0.0052},{"cycle":"20th","V":-0.375,"I":0.0056},{"cycle":"20th","V":-0.4,"I":0.006},{"cycle":"20th","V":-0.425,"I":0.0064},{"cycle":"20th","V":-0.45,"I":0.0068},{"cycle":"20th","V":-0.475,"I":0.007},{"cycle":"20th","V":-0.5,"I":0.0071},{"cycle":"20th","V":-0.53,"I":0.0068},{"cycle":"20th","V":-0.55,"I":0.006},{"cycle":"20th","V":-0.57,"I":0.0045},{"cycle":"20th","V":-0.58,"I":0.003},{"cycle":"20th","V":-0.58,"I":0.002},
{"cycle":"20th","V":-0.6,"I":0.00155},{"cycle":"20th","V":-0.625,"I":0.0016},{"cycle":"20th","V":-0.65,"I":0.0017},{"cycle":"20th","V":-0.675,"I":0.00175},{"cycle":"20th","V":-0.7,"I":0.0018},{"cycle":"20th","V":-0.725,"I":0.00185},{"cycle":"20th","V":-0.75,"I":0.0019},{"cycle":"20th","V":-0.775,"I":0.00198},{"cycle":"20th","V":-0.8,"I":0.00205},{"cycle":"20th","V":-0.825,"I":0.0022},{"cycle":"20th","V":-0.85,"I":0.0023},{"cycle":"20th","V":-0.875,"I":0.0024},{"cycle":"20th","V":-0.9,"I":0.0025},{"cycle":"20th","V":-0.925,"I":0.00255},{"cycle":"20th","V":-0.95,"I":0.0026},{"cycle":"20th","V":-0.975,"I":0.0026},{"cycle":"20th","V":-1,"I":0.0026},
{"cycle":"20th","V":-0.975,"I":0.0023},{"cycle":"20th","V":-0.95,"I":0.0021},{"cycle":"20th","V":-0.925,"I":0.002},{"cycle":"20th","V":-0.9,"I":0.00185},{"cycle":"20th","V":-0.875,"I":0.0017},{"cycle":"20th","V":-0.85,"I":0.0016},{"cycle":"20th","V":-0.825,"I":0.0015},{"cycle":"20th","V":-0.8,"I":0.0014},{"cycle":"20th","V":-0.775,"I":0.0013},{"cycle":"20th","V":-0.75,"I":0.00122},{"cycle":"20th","V":-0.725,"I":0.00114},{"cycle":"20th","V":-0.7,"I":0.00107},{"cycle":"20th","V":-0.675,"I":0.001},{"cycle":"20th","V":-0.65,"I":0.00094},{"cycle":"20th","V":-0.625,"I":0.00088},{"cycle":"20th","V":-0.6,"I":0.00082},{"cycle":"20th","V":-0.575,"I":0.00077},{"cycle":"20th","V":-0.55,"I":0.00072},{"cycle":"20th","V":-0.525,"I":0.00067},{"cycle":"20th","V":-0.5,"I":0.00062},{"cycle":"20th","V":-0.475,"I":0.00057},{"cycle":"20th","V":-0.45,"I":0.00053},{"cycle":"20th","V":-0.425,"I":0.00049},{"cycle":"20th","V":-0.4,"I":0.00045},{"cycle":"20th","V":-0.375,"I":0.00041},{"cycle":"20th","V":-0.35,"I":0.00038},{"cycle":"20th","V":-0.325,"I":0.00034},{"cycle":"20th","V":-0.3,"I":0.00031},{"cycle":"20th","V":-0.275,"I":0.00027},{"cycle":"20th","V":-0.25,"I":0.00024},{"cycle":"20th","V":-0.225,"I":0.00021},{"cycle":"20th","V":-0.2,"I":0.00018},{"cycle":"20th","V":-0.175,"I":0.00015},{"cycle":"20th","V":-0.15,"I":0.00012},{"cycle":"20th","V":-0.125,"I":0.000095},{"cycle":"20th","V":-0.1,"I":0.00007},{"cycle":"20th","V":-0.09,"I":0.00006},{"cycle":"20th","V":-0.08,"I":0.00005},{"cycle":"20th","V":-0.07,"I":0.00004},{"cycle":"20th","V":-0.06,"I":0.00003},{"cycle":"20th","V":-0.05,"I":0.000018},{"cycle":"20th","V":-0.04,"I":0.000012},

{"cycle":"1st","V":-1,"I":0.00125},{"cycle":"1st","V":-0.975,"I":0.00119},{"cycle":"1st","V":-0.95,"I":0.00113},{"cycle":"1st","V":-0.925,"I":0.00108},{"cycle":"1st","V":-0.9,"I":0.00103},{"cycle":"1st","V":-0.875,"I":0.00098},{"cycle":"1st","V":-0.85,"I":0.00094},{"cycle":"1st","V":-0.825,"I":0.0009},{"cycle":"1st","V":-0.8,"I":0.00086},{"cycle":"1st","V":-0.775,"I":0.00082},{"cycle":"1st","V":-0.75,"I":0.00079},{"cycle":"1st","V":-0.725,"I":0.00076},{"cycle":"1st","V":-0.7,"I":0.00073},{"cycle":"1st","V":-0.675,"I":0.0007},{"cycle":"1st","V":-0.65,"I":0.00067},{"cycle":"1st","V":-0.625,"I":0.00063},{"cycle":"1st","V":-0.6,"I":0.0006},{"cycle":"1st","V":-0.575,"I":0.00057},{"cycle":"1st","V":-0.55,"I":0.00054},{"cycle":"1st","V":-0.525,"I":0.00051},{"cycle":"1st","V":-0.5,"I":0.00048},{"cycle":"1st","V":-0.475,"I":0.00044},{"cycle":"1st","V":-0.45,"I":0.00041},{"cycle":"1st","V":-0.425,"I":0.00038},{"cycle":"1st","V":-0.4,"I":0.00035},{"cycle":"1st","V":-0.375,"I":0.00032},{"cycle":"1st","V":-0.35,"I":0.00029},{"cycle":"1st","V":-0.325,"I":0.00026},{"cycle":"1st","V":-0.3,"I":0.000235},{"cycle":"1st","V":-0.275,"I":0.000205},{"cycle":"1st","V":-0.25,"I":0.000175},{"cycle":"1st","V":-0.225,"I":0.000145},{"cycle":"1st","V":-0.2,"I":0.00012},{"cycle":"1st","V":-0.175,"I":0.0001},{"cycle":"1st","V":-0.15,"I":0.00008},{"cycle":"1st","V":-0.125,"I":0.000062},{"cycle":"1st","V":-0.1,"I":0.000045},{"cycle":"1st","V":-0.09,"I":0.000039},{"cycle":"1st","V":-0.08,"I":0.000033},{"cycle":"1st","V":-0.07,"I":0.000028},{"cycle":"1st","V":-0.06,"I":0.000023},{"cycle":"1st","V":-0.05,"I":0.000019},{"cycle":"1st","V":-0.04,"I":0.000015},{"cycle":"1st","V":-0.03,"I":0.000012},
{"cycle":"1st","V":0.03,"I":0.000012},{"cycle":"1st","V":0.035,"I":0.000016},{"cycle":"1st","V":0.04,"I":0.000021},{"cycle":"1st","V":0.045,"I":0.000025},{"cycle":"1st","V":0.05,"I":0.000028},{"cycle":"1st","V":0.06,"I":0.000036},{"cycle":"1st","V":0.07,"I":0.000043},{"cycle":"1st","V":0.08,"I":0.00005},{"cycle":"1st","V":0.1,"I":0.000063},{"cycle":"1st","V":0.12,"I":0.000075},{"cycle":"1st","V":0.15,"I":0.000095},{"cycle":"1st","V":0.175,"I":0.000115},{"cycle":"1st","V":0.2,"I":0.00014},{"cycle":"1st","V":0.225,"I":0.000175},{"cycle":"1st","V":0.25,"I":0.00021},{"cycle":"1st","V":0.275,"I":0.000255},{"cycle":"1st","V":0.3,"I":0.0003},{"cycle":"1st","V":0.325,"I":0.00035},{"cycle":"1st","V":0.35,"I":0.0004},{"cycle":"1st","V":0.375,"I":0.00044},{"cycle":"1st","V":0.4,"I":0.00048},{"cycle":"1st","V":0.425,"I":0.00053},{"cycle":"1st","V":0.45,"I":0.00058},{"cycle":"1st","V":0.475,"I":0.00063},{"cycle":"1st","V":0.5,"I":0.00068},{"cycle":"1st","V":0.525,"I":0.00072},{"cycle":"1st","V":0.55,"I":0.00076},{"cycle":"1st","V":0.575,"I":0.0008},{"cycle":"1st","V":0.6,"I":0.00084},{"cycle":"1st","V":0.625,"I":0.00088},{"cycle":"1st","V":0.65,"I":0.00092},{"cycle":"1st","V":0.675,"I":0.00095},{"cycle":"1st","V":0.7,"I":0.00098},{"cycle":"1st","V":0.72,"I":0.00101},{"cycle":"1st","V":0.74,"I":0.00105},{"cycle":"1st","V":0.76,"I":0.0011},{"cycle":"1st","V":0.78,"I":0.00115},{"cycle":"1st","V":0.8,"I":0.0013},{"cycle":"1st","V":0.82,"I":0.00145},{"cycle":"1st","V":0.84,"I":0.0015},{"cycle":"1st","V":0.85,"I":0.00135},{"cycle":"1st","V":0.87,"I":0.0023},
{"cycle":"1st","V":0.87,"I":0.01},{"cycle":"1st","V":1,"I":0.01},{"cycle":"1st","V":0.975,"I":0.01},{"cycle":"1st","V":0.95,"I":0.01},{"cycle":"1st","V":0.925,"I":0.01},{"cycle":"1st","V":0.9,"I":0.01},{"cycle":"1st","V":0.875,"I":0.01},{"cycle":"1st","V":0.85,"I":0.01},{"cycle":"1st","V":0.825,"I":0.01},{"cycle":"1st","V":0.8,"I":0.01},{"cycle":"1st","V":0.775,"I":0.01},{"cycle":"1st","V":0.75,"I":0.01},{"cycle":"1st","V":0.725,"I":0.01},{"cycle":"1st","V":0.7,"I":0.01},{"cycle":"1st","V":0.675,"I":0.01},{"cycle":"1st","V":0.65,"I":0.01},{"cycle":"1st","V":0.625,"I":0.01},{"cycle":"1st","V":0.6,"I":0.01},{"cycle":"1st","V":0.575,"I":0.01},{"cycle":"1st","V":0.55,"I":0.01},{"cycle":"1st","V":0.525,"I":0.01},{"cycle":"1st","V":0.5,"I":0.01},{"cycle":"1st","V":0.475,"I":0.01},{"cycle":"1st","V":0.45,"I":0.01},
{"cycle":"1st","V":0.43,"I":0.0093},{"cycle":"1st","V":0.4,"I":0.008},{"cycle":"1st","V":0.375,"I":0.0074},{"cycle":"1st","V":0.35,"I":0.0068},{"cycle":"1st","V":0.325,"I":0.00625},{"cycle":"1st","V":0.3,"I":0.0057},{"cycle":"1st","V":0.275,"I":0.0052},{"cycle":"1st","V":0.25,"I":0.00475},{"cycle":"1st","V":0.225,"I":0.0043},{"cycle":"1st","V":0.2,"I":0.00385},{"cycle":"1st","V":0.175,"I":0.0034},{"cycle":"1st","V":0.15,"I":0.003},{"cycle":"1st","V":0.135,"I":0.0028},{"cycle":"1st","V":0.12,"I":0.00255},{"cycle":"1st","V":0.1,"I":0.00215},{"cycle":"1st","V":0.085,"I":0.0019},{"cycle":"1st","V":0.07,"I":0.0016},{"cycle":"1st","V":0.06,"I":0.0014},{"cycle":"1st","V":0.05,"I":0.00115},{"cycle":"1st","V":0.045,"I":0.00095},{"cycle":"1st","V":0.04,"I":0.00075},{"cycle":"1st","V":0.035,"I":0.00055},{"cycle":"1st","V":0.03,"I":0.0004},{"cycle":"1st","V":0.025,"I":0.00028},{"cycle":"1st","V":0.02,"I":0.00019}
]
},
"resolve": {"scale": {"color": "independent", "shape": "independent"}, "legend": {"color": "independent", "shape": "independent"}},
"spacing": -4,
"vconcat": [
{
 "width": 336, "height": 391,
 "resolve": {"axis": {"x": "independent", "y": "independent"}, "legend": {"color": "independent", "shape": "independent"}},
 "layer": [
  {"mark": {"type": "rule", "color": "#000", "strokeWidth": 1}, "encoding": {"x": {"datum": 0, "type": "quantitative", "axis": null}}},
  {"mark": {"type": "rule", "color": "#000", "strokeWidth": 1}, "encoding": {"y": {"datum": 0, "type": "quantitative", "axis": null}}},
  {
   "data": {"name": "top"},
   "mark": {"type": "line", "strokeWidth": 1, "order": false},
   "encoding": {
    "x": {"field": "V", "type": "quantitative", "scale": {"domain": [-1.2, 1.16], "nice": false, "zero": false}, "axis": {"orient": "bottom", "values": [-1, -0.75, -0.5, -0.25, 0, 0.25, 0.5, 0.75, 1], "tickSize": -18, "labels": false, "title": null, "domain": true}},
    "y": {"field": "I", "type": "quantitative", "scale": {"domain": [-0.0126, 0.0125], "nice": false, "zero": false}, "axis": {"orient": "left", "values": [-0.01, -0.005, 0, 0.005, 0.01], "tickSize": -18, "labelPadding": 27, "labelExpr": "datum.value > 0.007 ? '1.0x10⁻²' : datum.value > 0.002 ? '5.0x10⁻³' : datum.value > -0.002 ? '0.0' : datum.value > -0.007 ? '-5.0x10⁻³' : '-1.0x10⁻²'", "title": "Current (A)", "titleX": -105, "titleY": 194, "titleBaseline": "alphabetic", "domain": true}},
    "color": {"field": "cycle", "type": "nominal", "scale": {"domain": ["1st", "5th", "10th", "15th", "20th"], "range": ["#000000", "#ff0000", "#0000ff", "#9b30ad", "#1e8c1e"]},
     "legend": {"orient": "none", "legendX": 195, "legendY": 219, "title": null, "symbolType": "M-4.3,0H-1M1,0H4.3", "symbolSize": 120, "symbolStrokeWidth": 1, "rowPadding": 5, "labelOffset": 20, "labelOpacity": 0, "labelExpr": "datum.label + ' cycle'", "labelLimit": 300}}
   }
  },
  {
   "data": {"name": "top"},
   "mark": {"type": "point", "filled": false, "fill": "white", "size": 120, "strokeWidth": 1, "opacity": 1},
   "encoding": {
    "x": {"field": "V", "type": "quantitative", "axis": null},
    "y": {"field": "I", "type": "quantitative", "axis": null},
    "color": {"field": "cycle", "type": "nominal", "legend": {"orient": "none", "legendX": 195, "legendY": 219, "title": null, "symbolSize": 120, "symbolStrokeWidth": 1, "symbolFillColor": "white", "rowPadding": 5, "labelOffset": 20, "labelExpr": "datum.label + ' cycle'", "labelLimit": 300}},
    "shape": {"field": "cycle", "type": "nominal", "scale": {"domain": ["1st", "5th", "10th", "15th", "20th"], "range": ["circle", "M0,-1.2L0.27,-0.37L1.14,-0.37L0.44,0.14L0.71,0.97L0,0.46L-0.71,0.97L-0.44,0.14L-1.14,-0.37L-0.27,-0.37Z", "triangle-up", "triangle-right", "M-1.25,0L0,-1.25L1.25,0L0,1.25Z"]},
     "legend": {"orient": "none", "legendX": 195, "legendY": 219, "title": null, "symbolSize": 120, "symbolStrokeWidth": 1, "symbolFillColor": "white", "rowPadding": 5, "labelOffset": 20, "labelExpr": "datum.label + ' cycle'", "labelLimit": 300}}
   }
  },
  {
   "data": {"values": [{"V": -0.68, "I": 0.0093, "t": "300 K"}]},
   "mark": {"type": "text", "fontSize": 30, "font": "Liberation Serif", "color": "#000"},
   "encoding": {"x": {"field": "V", "type": "quantitative", "axis": null}, "y": {"field": "I", "type": "quantitative", "axis": null}, "text": {"field": "t"}}
  },
  {
   "data": {"values": [{"V": -0.784, "I": 0.0024, "t": "(a)"}]},
   "mark": {"type": "text", "fontSize": 28, "fontWeight": "bold", "font": "Liberation Serif", "color": "#000"},
   "encoding": {"x": {"field": "V", "type": "quantitative", "axis": null}, "y": {"field": "I", "type": "quantitative", "axis": null}, "text": {"field": "t"}}
  },
  {
   "data": {"values": [{"V": 0, "I": 0}]},
   "mark": {"type": "point", "opacity": 0},
   "encoding": {
    "x": {"field": "V", "type": "quantitative", "axis": {"orient": "top", "values": [-1, -0.75, -0.5, -0.25, 0, 0.25, 0.5, 0.75, 1], "tickSize": -18, "labels": false, "title": null, "domain": true}},
    "y": {"field": "I", "type": "quantitative", "axis": {"orient": "right", "values": [-0.01, -0.005, 0, 0.005, 0.01], "tickSize": -14, "labels": false, "title": null, "domain": false}}
   }
  },
  {
   "data": {"values": [{"V": 0, "I": 0}]},
   "mark": {"type": "point", "opacity": 0},
   "encoding": {
    "x": {"field": "V", "type": "quantitative", "axis": null},
    "y": {"field": "I", "type": "quantitative", "axis": {"orient": "left", "values": [-0.0075, -0.0025, 0.0025, 0.0075], "tickSize": -9, "labels": false, "title": null, "domain": false}}
   }
  },
  {
   "data": {"values": [{"V": 0, "I": 0}]},
   "mark": {"type": "point", "opacity": 0},
   "encoding": {
    "x": {"field": "V", "type": "quantitative", "axis": null},
    "y": {"field": "I", "type": "quantitative", "axis": {"orient": "right", "values": [-0.0075, -0.0025, 0.0025, 0.0075], "tickSize": -3, "labels": false, "title": null, "domain": false}}
   }
  }
 ]
},
{
 "width": 336, "height": 389,
 "resolve": {"axis": {"x": "independent", "y": "independent"}},
 "layer": [
  {
   "data": {"name": "bot"},
   "mark": {"type": "line", "strokeWidth": 1, "order": false},
   "encoding": {
    "x": {"field": "V", "type": "quantitative", "scale": {"domain": [-1.2, 1.16], "nice": false, "zero": false}, "axis": {"orient": "bottom", "values": [-1, -0.75, -0.5, -0.25, 0, 0.25, 0.5, 0.75, 1], "tickSize": -18, "labelPadding": 20, "labelExpr": "datum.value == -1 ? '-1.0' : datum.value == -0.5 ? '-0.5' : datum.value == 0 ? '0.0' : datum.value == 0.5 ? '0.5' : datum.value == 1 ? '1.0' : ''", "labelFlush": false, "labelOverlap": false, "title": "Voltage (V)", "titleY": 63, "titleBaseline": "alphabetic", "domain": true}},
    "y": {"field": "I", "type": "quantitative", "scale": {"type": "log", "domain": [0.0000115, 0.0195], "nice": false}, "axis": {"orient": "left", "values": [0.0001, 0.001, 0.01], "tickSize": -18, "labelPadding": 27, "labelExpr": "datum.value > 0.005 ? '10⁻²' : datum.value > 0.0005 ? '10⁻³' : '10⁻⁴'", "title": "Current (A)", "titleX": -70, "titleY": 185, "titleBaseline": "alphabetic", "domain": true}},
    "color": {"field": "cycle", "type": "nominal", "scale": {"domain": ["1st", "5th", "10th", "15th", "20th"], "range": ["#000000", "#ff0000", "#0000ff", "#9b30ad", "#1e8c1e"]}, "legend": null}
   }
  },
  {
   "data": {"name": "bot"},
   "mark": {"type": "point", "filled": false, "fill": "white", "size": 120, "strokeWidth": 1, "opacity": 1},
   "encoding": {
    "x": {"field": "V", "type": "quantitative", "axis": null},
    "y": {"field": "I", "type": "quantitative", "axis": null},
    "color": {"field": "cycle", "type": "nominal", "legend": null},
    "shape": {"field": "cycle", "type": "nominal", "scale": {"domain": ["1st", "5th", "10th", "15th", "20th"], "range": ["circle", "M0,-1.2L0.27,-0.37L1.14,-0.37L0.44,0.14L0.71,0.97L0,0.46L-0.71,0.97L-0.44,0.14L-1.14,-0.37L-0.27,-0.37Z", "triangle-up", "triangle-down", "M-1.25,0L0,-1.25L1.25,0L0,1.25Z"]}, "legend": null}
   }
  },
  {
   "data": {"values": [{"V": -0.707, "I": 0.000047, "t": "(b)"}]},
   "mark": {"type": "text", "fontSize": 28, "fontWeight": "bold", "font": "Liberation Serif", "color": "#000"},
   "encoding": {"x": {"field": "V", "type": "quantitative", "axis": null}, "y": {"field": "I", "type": "quantitative", "axis": null}, "text": {"field": "t"}}
  },
  {
   "data": {"values": [{"V": 0, "I": 0.001}]},
   "mark": {"type": "point", "opacity": 0},
   "encoding": {
    "x": {"field": "V", "type": "quantitative", "axis": {"orient": "top", "values": [-1, -0.75, -0.5, -0.25, 0, 0.25, 0.5, 0.75, 1], "tickSize": -18, "labels": false, "title": null, "domain": true}},
    "y": {"field": "I", "type": "quantitative", "axis": {"orient": "right", "values": [0.0001, 0.001, 0.01], "tickSize": -14, "labels": false, "title": null, "domain": false}}
   }
  },
  {
   "data": {"values": [{"V": 0, "I": 0.001}]},
   "mark": {"type": "point", "opacity": 0},
   "encoding": {
    "x": {"field": "V", "type": "quantitative", "axis": null},
    "y": {"field": "I", "type": "quantitative", "axis": {"orient": "left", "values": [0.00002, 0.00003, 0.00004, 0.00005, 0.00006, 0.00007, 0.00008, 0.00009, 0.0002, 0.0003, 0.0004, 0.0005, 0.0006, 0.0007, 0.0008, 0.0009, 0.002, 0.003, 0.004, 0.005, 0.006, 0.007, 0.008, 0.009], "tickSize": -9, "labels": false, "title": null, "domain": false}}
   }
  },
  {
   "data": {"values": [{"V": 0, "I": 0.001}]},
   "mark": {"type": "point", "opacity": 0},
   "encoding": {
    "x": {"field": "V", "type": "quantitative", "axis": null},
    "y": {"field": "I", "type": "quantitative", "axis": {"orient": "right", "values": [0.00002, 0.00003, 0.00004, 0.00005, 0.00006, 0.00007, 0.00008, 0.00009, 0.0002, 0.0003, 0.0004, 0.0005, 0.0006, 0.0007, 0.0008, 0.0009, 0.002, 0.003, 0.004, 0.005, 0.006, 0.007, 0.008, 0.009], "tickSize": -3, "labels": false, "title": null, "domain": false}}
   }
  }
 ]
}
]
}
